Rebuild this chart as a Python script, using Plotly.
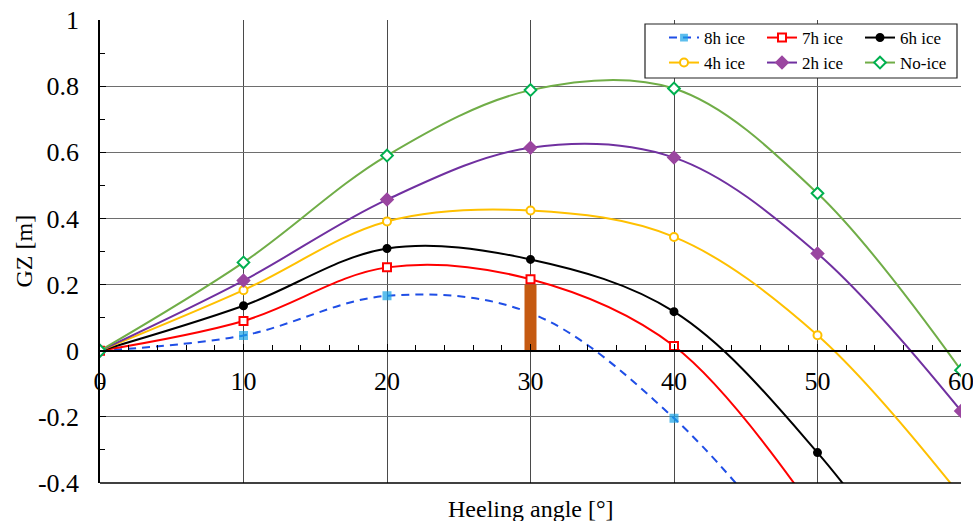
import plotly.graph_objects as go

# Heeling angles (degrees) at which GZ was evaluated
angles = [0, 10, 20, 30, 40, 50, 60]

# Righting lever GZ [m] for each icing duration
gz_8h = [0.0, 0.046, 0.166, 0.114, -0.204, -0.70]
gz_7h = [0.0, 0.090, 0.252, 0.216, 0.014, -0.50]
gz_6h = [0.0, 0.136, 0.309, 0.276, 0.118, -0.308, -0.90]
gz_4h = [0.0, 0.183, 0.391, 0.424, 0.344, 0.047, -0.44]
gz_2h = [0.0, 0.212, 0.457, 0.614, 0.584, 0.294, -0.182]
gz_no = [0.0, 0.267, 0.590, 0.788, 0.793, 0.476, -0.059]

# Heeling-arm marker at 30 degrees
bar_angle = [30]
bar_height = [0.2]

x_ticks = [0, 10, 20, 30, 40, 50, 60]
y_ticks = [-0.4, -0.2, 0, 0.2, 0.4, 0.6, 0.8, 1]
y_tick_text = ["-0.4", "-0.2", "0", "0.2", "0.4", "0.6", "0.8", "1"]

FONT = "Liberation Serif"

# plot-area geometry in pixels, used to place the legend box
L, R, T, B = 100, 961, 20, 483


def px_x(p):
    return (p - L) / (R - L)


def px_y(p):
    return (B - p) / (B - T)


fig = go.Figure()


def add_series(name, y, line_color, dash, symbol, m_fill, m_line, legend, sizes=None):
    fig.add_trace(go.Scatter(
        x=angles[:len(y)], y=y, name=name, legend=legend,
        mode="lines+markers",
        line=dict(color=line_color, width=2, dash=dash, shape="spline", smoothing=1),
        marker=dict(symbol=symbol, size=sizes if sizes else 8, color=m_fill,
                    line=dict(color=m_line, width=2)),
        cliponaxis=True,
    ))


add_series("8h ice", gz_8h, "#1f4ee6", "8px,6px", "square", "#19a3e6", "#19a3e6",
           "legend", sizes=[7, 7, 7, 0, 7, 7])

# heeling bar drawn over the 8h curve
fig.add_trace(go.Scatter(
    x=[bar_angle[0], bar_angle[0]], y=[0, bar_height[0]],
    mode="lines", line=dict(color="#c55a11", width=12),
    showlegend=False, hoverinfo="skip",
))

add_series("7h ice", gz_7h, "#ff0000", "solid", "square", "white", "#ff0000", "legend")
add_series("6h ice", gz_6h, "#000000", "solid", "circle", "#000000", "#000000", "legend", sizes=7)
add_series("4h ice", gz_4h, "#ffc000", "solid", "circle", "white", "#ffc000", "legend2")
add_series("2h ice", gz_2h, "#7030a0", "solid", "diamond", "#9a46a0", "#9a46a0", "legend2", sizes=9)
add_series("No-ice", gz_no, "#70ad47", "solid", "diamond", "white", "#00b050", "legend2", sizes=9)

y_min, y_max = -0.4, 1.0
zero_pos = (0 - y_min) / (y_max - y_min)

legend_common = dict(
    orientation="h", xanchor="left", yanchor="middle",
    bgcolor="rgba(0,0,0,0)", borderwidth=0,
    font=dict(size=17, family=FONT),
    entrywidth=53, entrywidthmode="pixels", itemwidth=30,
)

fig.update_layout(
    width=973, height=521,
    margin=dict(l=L, r=973 - R, t=T, b=521 - B, autoexpand=False),
    paper_bgcolor="white", plot_bgcolor="white",
    font=dict(family=FONT, color="black"),
    xaxis=dict(
        range=[0, 60], tickvals=x_ticks, ticktext=[str(v) for v in x_ticks],
        anchor="free", position=zero_pos, automargin=False,
        showline=True, linecolor="black", linewidth=1.5,
        ticks="inside", ticklen=6, tickcolor="black",
        minor=dict(dtick=2, ticks="inside", ticklen=5, tickcolor="black", showgrid=False),
        showgrid=True, gridcolor="#4a4a4a", gridwidth=1,
        zeroline=False,
        tickfont=dict(size=26, family=FONT),
        ticklabelstandoff=7,
        ticklabeloverflow="allow",
    ),
    yaxis=dict(
        range=[y_min, y_max], tickvals=y_ticks, ticktext=y_tick_text,
        automargin=False,
        showline=True, linecolor="black", linewidth=1.5,
        ticks="inside", ticklen=6, tickcolor="black",
        minor=dict(dtick=0.1, tick0=0, ticks="inside", ticklen=5, tickcolor="black", showgrid=False),
        showgrid=True, gridcolor="#6e6e6e", gridwidth=1,
        zeroline=False,
        tickfont=dict(size=26, family=FONT),
        ticklabelstandoff=14,
        ticklabeloverflow="allow",
    ),
    legend=dict(x=px_x(664), y=px_y(38), **legend_common),
    legend2=dict(x=px_x(664), y=px_y(63), **legend_common),
    showlegend=True,
    shapes=[
        dict(type="line", xref="paper", yref="paper", x0=0, x1=1, y0=0, y1=0,
             line=dict(color="black", width=1.5)),
        dict(type="rect", xref="paper", yref="paper",
             x0=px_x(645), x1=px_x(957), y0=px_y(78), y1=px_y(24),
             fillcolor="white", line=dict(color="#222222", width=1.2), layer="above"),
    ],
    annotations=[
        dict(text="GZ [m]", xref="paper", yref="paper", x=(23 - L) / (R - L), y=0.5,
             xanchor="center", yanchor="middle", textangle=-90, showarrow=False,
             font=dict(size=24, family=FONT)),
        dict(text="Heeling angle [°]", xref="paper", yref="paper", x=0.5,
             y=px_y(509),
             xanchor="center", yanchor="middle", showarrow=False,
             font=dict(size=24, family=FONT)),
    ],
)

fig.write_html("out.html")
